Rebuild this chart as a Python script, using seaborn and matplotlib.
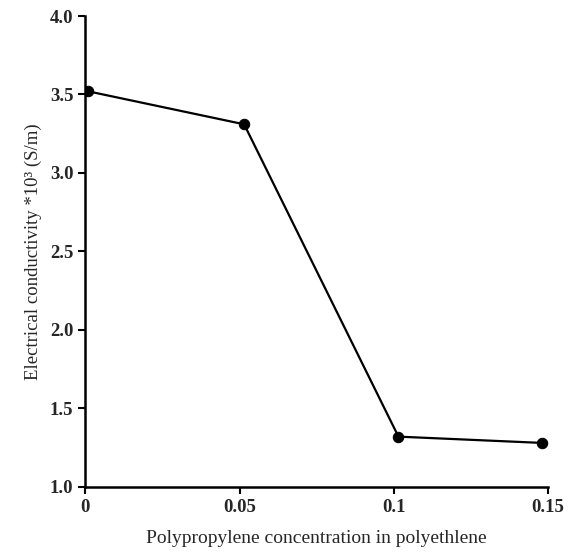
import pandas as pd
import matplotlib
matplotlib.use('Agg')
import matplotlib.pyplot as plt
import seaborn as sns

# Данные
concentration = [0.001, 0.0515, 0.1015, 0.148]
conductivity = [3.52, 3.31, 1.32, 1.28]
x_ticks = [0, 0.05, 0.1, 0.15]
x_tick_labels = ['0', '0.05', '0.1', '0.15']
y_ticks = [1.0, 1.5, 2.0, 2.5, 3.0, 3.5, 4.0]

data = pd.DataFrame({'conc': concentration, 'cond': conductivity})

sns.set_style('ticks')
plt.rcParams['font.family'] = ['Liberation Serif', 'DejaVu Serif']

fig = plt.figure(figsize=(5.68, 5.52), dpi=100)
ax = fig.add_axes([0.15, 0.118, 0.815, 0.853])
sns.lineplot(x='conc', y='cond', data=data, color='black', linewidth=1.6,
             marker='o', markersize=7.5, markeredgecolor='black', ax=ax)

ax.set_xlim(0, 0.15)
ax.set_ylim(1.0, 4.0)
ax.set_xticks(x_ticks)
ax.set_xticklabels(x_tick_labels)
ax.set_yticks(y_ticks)
ax.set_yticklabels([f'{v:.1f}' for v in y_ticks])
ax.tick_params(axis='both', labelsize=13.5, width=1.5, length=5, color='black')
for lbl in ax.get_xticklabels() + ax.get_yticklabels():
    lbl.set_fontweight('bold')

sns.despine(ax=ax)
for side in ['left', 'bottom']:
    ax.spines[side].set_linewidth(1.8)
    ax.spines[side].set_color('black')

ax.set_xlabel('Polypropylene concentration in polyethlene', fontsize=14, labelpad=10)
ax.set_ylabel('Electrical conductivity *10³ (S/m)', fontsize=13.5, labelpad=6)

fig.savefig('out.png', dpi=100)
